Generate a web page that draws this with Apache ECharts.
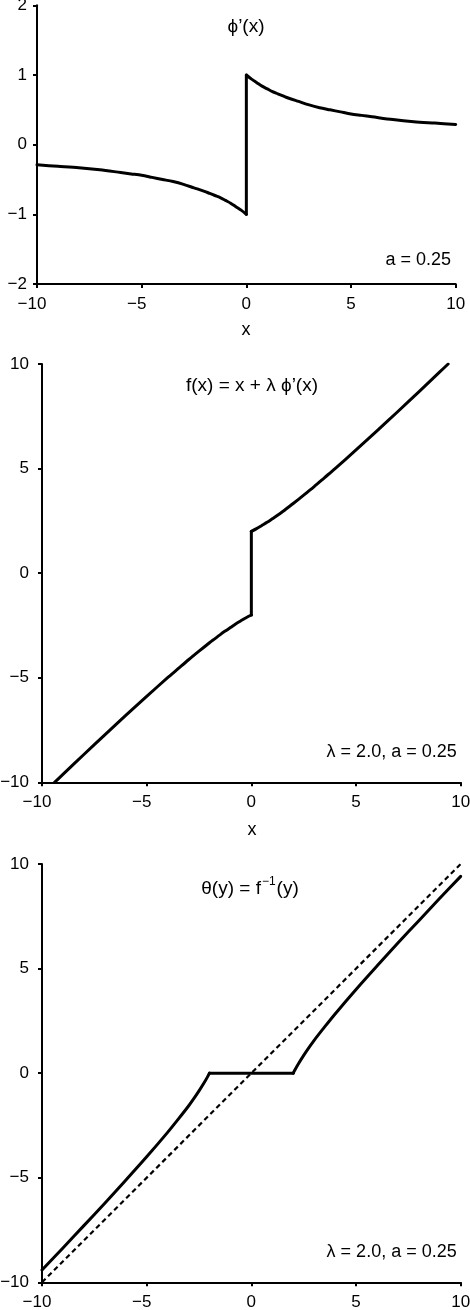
<!DOCTYPE html>
<html><head><meta charset="utf-8">
<script src="https://cdn.jsdelivr.net/npm/echarts@6/dist/echarts.min.js"></script>
<style>html,body{margin:0;padding:0;background:#fff}#c{width:470px;height:1310px}</style>
</head><body><div id="c"></div>
<script>
// ---- data ----
const xTicks1 = [-10, -5, 0, 5, 10];
const yTicks1 = [-2, -1, 0, 1, 2];
const yTicks2 = [-10, -5, 0, 5, 10];

// panel 1: phi'(x), left branch, jump at 0, right branch
const phiXL = [-10,-9,-8,-7,-6,-5.5,-5,-4.5,-4,-3.5,-3,-2.5,-2,-1.75,-1.5,-1.25,-1,-0.75,-0.5,-0.25,0];
const phiYL = [-0.29,-0.31,-0.33,-0.36,-0.40,-0.42,-0.44,-0.47,-0.50,-0.53,-0.57,-0.62,-0.67,-0.70,-0.73,-0.76,-0.80,-0.84,-0.89,-0.94,-1.00];
const phiXJ = [0, 0];
const phiYJ = [-1.00, 1.00];
const phiXR = [0,0.25,0.5,0.75,1,1.25,1.5,1.75,2,2.5,3,3.5,4,4.5,5,5.5,6,7,8,9,10];
const phiYR = [1.00,0.94,0.89,0.84,0.80,0.76,0.73,0.70,0.67,0.62,0.57,0.53,0.50,0.47,0.44,0.42,0.40,0.36,0.33,0.31,0.29];

// panel 2: f(x) = x + lambda phi'(x)
const fXL = [-9.4,-9,-8,-7,-6,-5,-4,-3.5,-3,-2.5,-2,-1.75,-1.5,-1.25,-1,-0.75,-0.5,-0.25,0];
const fYL = [-10.0,-9.62,-8.67,-7.73,-6.80,-5.89,-5.00,-4.57,-4.14,-3.73,-3.33,-3.14,-2.95,-2.77,-2.60,-2.43,-2.28,-2.13,-2.00];
const fXJ = [0, 0];
const fYJ = [-2.00, 2.00];
const fXR = [0,0.25,0.5,0.75,1,1.25,1.5,1.75,2,2.5,3,3.5,4,5,6,7,8,9,9.4];
const fYR = [2.00,2.13,2.28,2.43,2.60,2.77,2.95,3.14,3.33,3.73,4.14,4.57,5.00,5.89,6.80,7.73,8.67,9.62,10.0];

// panel 3: theta(y) = f^-1(y)
const thYL = [-10,-9,-8,-7,-6,-5,-4,-3.5,-3,-2.75,-2.5,-2.25,-2.1,-2];
const thVL = [-9.41,-8.36,-7.29,-6.22,-5.12,-4.00,-2.83,-2.21,-1.57,-1.22,-0.85,-0.45,-0.19,0];
const thYF = [-2, 2];
const thVF = [0, 0];
const thYR = [2,2.1,2.25,2.5,2.75,3,3.5,4,5,6,7,8,9,10];
const thVR = [0,0.19,0.45,0.85,1.22,1.57,2.21,2.83,4.00,5.12,6.22,7.29,8.36,9.41];
const diagX = [-10, 10];
const diagY = [-10, 10];

// ---- chart ----
const FONT = '"Liberation Sans", Arial, Helvetica, sans-serif';
const FS = 17;
const MINUS = '\u2212';
function fmtX(v){ return v < 0 ? MINUS + Math.abs(v) + '{p| }' : String(v); }
function fmtY(v){ return v < 0 ? MINUS + Math.abs(v) : String(v); }
const pair = (a, b) => a.map((v, i) => [v, b[i]]);

function xAx(gi, ticks){
  return {
    type:'value', gridIndex:gi, min:ticks[0], max:ticks[ticks.length-1],
    interval: ticks[1]-ticks[0],
    axisLine:{show:true, onZero:false, lineStyle:{color:'#000', width:2}},
    axisTick:{show:true, length:4, lineStyle:{color:'#000', width:2}},
    axisLabel:{color:'#000', fontFamily:FONT, fontSize:FS, margin:12, formatter:fmtX,
      rich:{p:{width:10, fontSize:FS, fontFamily:FONT}}},
    splitLine:{show:false}
  };
}
function yAx(gi, ticks, margin){
  return {
    type:'value', gridIndex:gi, min:ticks[0], max:ticks[ticks.length-1],
    interval: ticks[1]-ticks[0],
    axisLine:{show:true, onZero:false, lineStyle:{color:'#000', width:2}},
    axisTick:{show:true, length:4, lineStyle:{color:'#000', width:2}},
    axisLabel:{color:'#000', fontFamily:FONT, fontSize:FS, margin:margin, formatter:fmtY},
    splitLine:{show:false}
  };
}
function txt(x, y, s, size, align){
  return {type:'text', x:x, y:y, silent:true,
    style:{text:s, fill:'#000', font: size + 'px ' + FONT, textAlign:align||'center', textVerticalAlign:'middle'}};
}
const LS = {color:'#000', width:3, cap:'round', join:'round'};
function ser(gi, xs, ys){
  return {type:'line', xAxisIndex:gi, yAxisIndex:gi, data:pair(xs, ys), showSymbol:false,
    smooth:0.3, lineStyle:LS, clip:true, z:3};
}
function seg(gi, xs, ys){
  return {type:'line', xAxisIndex:gi, yAxisIndex:gi, data:pair(xs, ys), showSymbol:false,
    lineStyle:LS, clip:true, z:3};
}

const chart = echarts.init(document.getElementById('c'), null, {renderer:'canvas'});
chart.setOption({
  animation:false,
  backgroundColor:'#fff',
  grid:[
    {left:37, top:5.3, width:418.7, height:278.7, outerBoundsMode:'none'},
    {left:42, top:364, width:418.7, height:418.3, outerBoundsMode:'none'},
    {left:42, top:864, width:418.7, height:418.3, outerBoundsMode:'none'}
  ],
  xAxis:[xAx(0, xTicks1), xAx(1, xTicks1), xAx(2, xTicks1)],
  yAxis:[yAx(0, yTicks1, 10), yAx(1, yTicks2, 13), yAx(2, yTicks2, 13)],
  series:[
    ser(0, phiXL, phiYL), seg(0, phiXJ, phiYJ), ser(0, phiXR, phiYR),
    ser(1, fXL, fYL), seg(1, fXJ, fYJ), ser(1, fXR, fYR),
    {type:'line', xAxisIndex:2, yAxisIndex:2, data:pair(diagX, diagY), showSymbol:false,
      lineStyle:{color:'#000', width:2.2, type:[5,3.5]}, clip:true, z:2},
    ser(2, thYL, thVL), seg(2, thYF, thVF), ser(2, thYR, thVR)
  ],
  graphic:[
    txt(246, 27, '\u03D5\u2019(x)', 19),
    txt(451, 260, 'a = 0.25', 18, 'right'),
    txt(246, 330, 'x', 18),
    txt(252, 386, 'f(x) = x + \u03BB \u03D5\u2019(x)', 19),
    txt(456.7, 752, '\u03BB = 2.0, a = 0.25', 18, 'right'),
    txt(252, 830, 'x', 18),
    {type:'text', x:250, y:887, silent:true,
      style:{text:'{b|\u03B8(y) = f}{s|\u22121}{b|(y)}', textAlign:'center', textVerticalAlign:'middle', fill:'#000',
        rich:{
          b:{fontSize:19, fontFamily:FONT, fill:'#000', lineHeight:22, verticalAlign:'bottom'},
          s:{fontSize:12, fontFamily:FONT, fill:'#000', lineHeight:22, verticalAlign:'top', padding:[0,1,0,1]}
        }}},
    txt(456.7, 1252, '\u03BB = 2.0, a = 0.25', 18, 'right')
  ]
});
</script></body></html>
